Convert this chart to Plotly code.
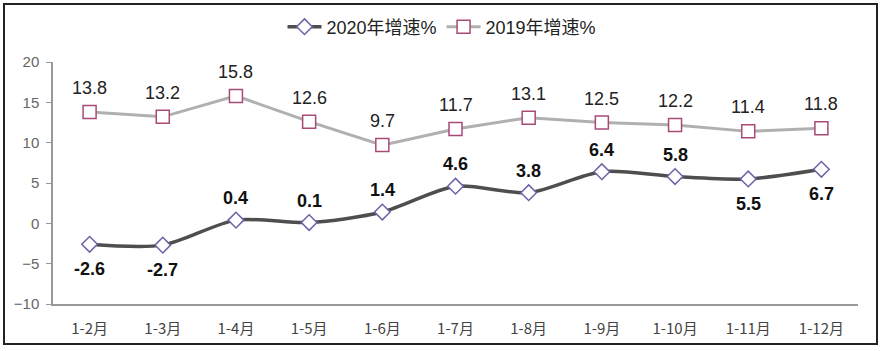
import plotly.graph_objects as go

categories = ["1-2月", "1-3月", "1-4月", "1-5月", "1-6月", "1-7月", "1-8月", "1-9月", "1-10月", "1-11月", "1-12月"]
growth_2020 = [-2.6, -2.7, 0.4, 0.1, 1.4, 4.6, 3.8, 6.4, 5.8, 5.5, 6.7]
growth_2019 = [13.8, 13.2, 15.8, 12.6, 9.7, 11.7, 13.1, 12.5, 12.2, 11.4, 11.8]
below_2020 = [True, True, False, False, False, False, False, False, False, True, True]
y_ticks = [-10, -5, 0, 5, 10, 15, 20]

W, H = 888, 351
L, R, T, B = 53, 30, 62, 47
pw, ph = W - L - R, H - T - B

def px_x(px):
    return (px - L) / pw

def px_y(py):
    return (H - B - py) / ph

fig = go.Figure()
fig.add_trace(go.Scatter(
    x=categories, y=growth_2020, name="2020年增速%",
    mode="lines+markers",
    line=dict(color="#4e4e4e", width=3.5, shape="spline", smoothing=0.8),
    marker=dict(symbol="diamond", size=12, color="white", line=dict(color="#7060a8", width=1.5)),
))
fig.add_trace(go.Scatter(
    x=categories, y=growth_2019, name="2019年增速%",
    mode="lines+markers",
    line=dict(color="#b0b0b0", width=3),
    marker=dict(symbol="square", size=13, color="white", line=dict(color="#a84a78", width=1.5)),
))

for c, v, b in zip(categories, growth_2020, below_2020):
    fig.add_annotation(x=c, y=v, text=f"<b>{v:.1f}</b>", showarrow=False,
                       yshift=-25 if b else 22,
                       font=dict(family="Liberation Sans, Arial", size=18, color="#111111"))
for c, v in zip(categories, growth_2019):
    fig.add_annotation(x=c, y=v, text=f"{v:.1f}", showarrow=False, yshift=24,
                       font=dict(family="Liberation Sans, Arial", size=18, color="#222222"))

fig.add_shape(type="rect", xref="paper", yref="paper",
              x0=px_x(4), x1=px_x(877), y0=px_y(344), y1=px_y(4),
              line=dict(color="#222222", width=2), fillcolor="rgba(0,0,0,0)", layer="below")

fig.update_layout(
    width=W, height=H,
    margin=dict(l=L, r=R, t=T, b=B, autoexpand=False),
    paper_bgcolor="white", plot_bgcolor="white",
    showlegend=True,
    legend=dict(orientation="h", x=px_x(442), xanchor="center", y=px_y(27), yanchor="middle",
                font=dict(family="Liberation Sans, Arial, Noto Sans CJK SC", size=18, color="#222222"),
                itemwidth=34, tracegroupgap=0),
    xaxis=dict(showgrid=False, showline=True, linecolor="#999999", linewidth=1.5, ticks="",
               ticklabelstandoff=10, tickangle=0,
               tickfont=dict(family="Noto Sans CJK SC", size=15, color="#444444"),
               range=[-0.5, 10.5], zeroline=False),
    yaxis=dict(range=[-10, 20], tickvals=y_ticks, showgrid=False, zeroline=False,
               showline=True, linecolor="#999999", linewidth=1.5, ticks="outside", ticklen=5,
               tickcolor="#999999", ticklabelstandoff=4,
               tickfont=dict(family="Liberation Sans, Arial", size=15, color="#666666")),
)

fig.write_html("out.html")
